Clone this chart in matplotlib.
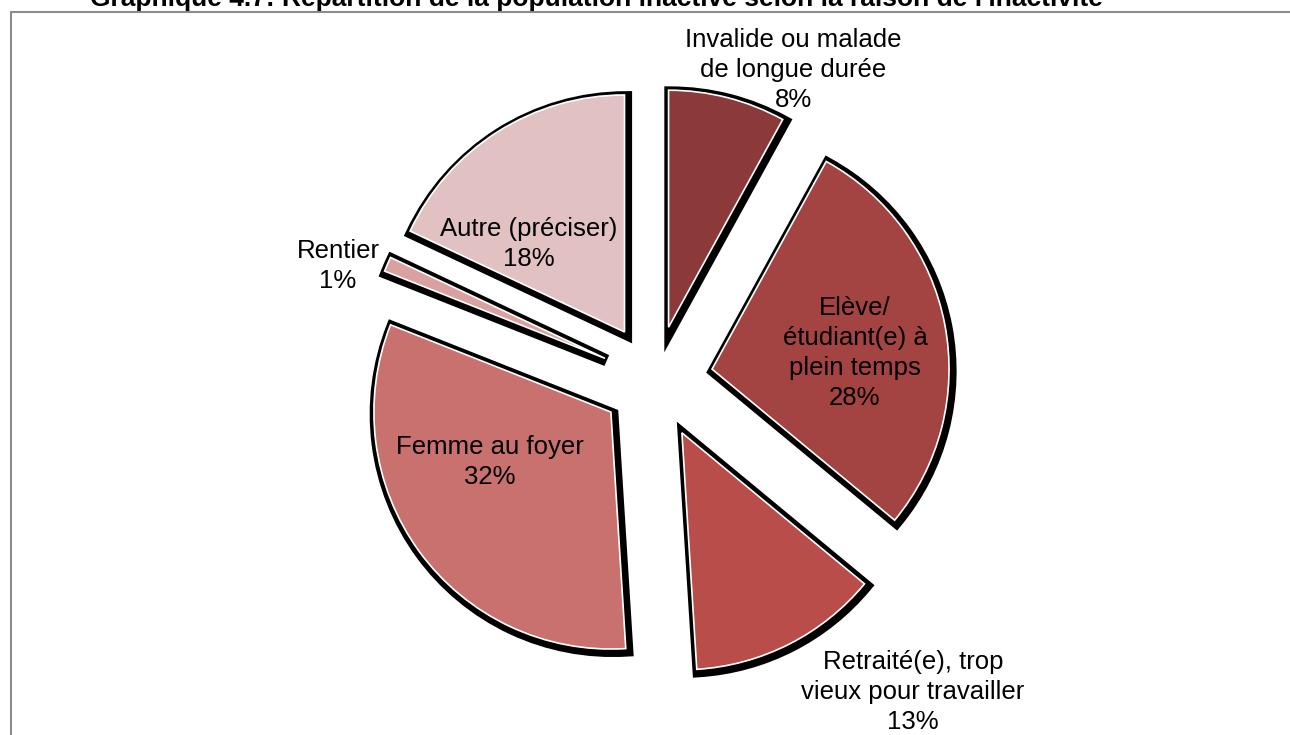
import matplotlib
matplotlib.use("Agg")
import matplotlib.pyplot as plt
import matplotlib.patches as mpatches
import matplotlib.patheffects as pe

plt.rcParams["font.family"] = ["Liberation Sans", "DejaVu Sans"]

# Data (clockwise from 12 o'clock)
CATEGORIES = [
    "Invalide ou malade\nde longue durée",
    "Elève/\nétudiant(e) à\nplein temps",
    "Retraité(e), trop\nvieux pour travailler",
    "Femme au foyer",
    "Rentier",
    "Autre (préciser)",
]
SHARES = [8, 28, 13, 32, 1, 18]

COLORS = ["#8b3939", "#a34342", "#b84d4a", "#c8716f", "#d9a2a1", "#e2c1c2"]
EXPLODE = [0.23, 0.245, 0.25, 0.23, 0.23, 0.24]

# label centres in figure pixels (x, y from top)
LABEL_POS = [(793, 70), (855, 353), (913, 692), (490, 462), (338, 266), (529, 244)]

TITLE = "Graphique 4.7: Répartition de la population inactive selon la raison de l'inactivité"

W, H = 1290, 735
CX, CY, R = 655, 380, 237   # pie centre / radius in pixels

fig = plt.figure(figsize=(W / 100, H / 100), dpi=100)
fig.patch.set_facecolor("white")

# outer frame (only left and top edges visible in the crop)
fig.add_artist(mpatches.Rectangle((11 / W, -0.1), 1.2, 1.1 - 12 / H,
                                  transform=fig.transFigure, fill=False,
                                  edgecolor="#8c8c8c", linewidth=1.5))

# title, cut by the top edge of the picture
fig.text(90 / W, 1 - 6 / H, TITLE, ha="left", va="baseline",
         fontsize=19, fontweight="bold", color="black")

ax = fig.add_axes([0, 0, 1, 1])
wedges, _ = ax.pie(
    SHARES,
    explode=EXPLODE,
    colors=COLORS,
    startangle=90,
    counterclock=False,
    radius=1.0,
    wedgeprops=dict(edgecolor="white", linewidth=1.2),
)
for w in wedges:
    w.set_path_effects([
        pe.Stroke(linewidth=8.5, foreground="black", offset=(1.2, -1.5)),
        pe.Normal(),
    ])

ax.set_xlim(-CX / R, (W - CX) / R)
ax.set_ylim(-(H - CY) / R, CY / R)
ax.set_aspect("equal")
ax.axis("off")

for cat, share, (lx, ly) in zip(CATEGORIES, SHARES, LABEL_POS):
    fig.text(lx / W, 1 - ly / H, f"{cat}\n{share}%", ha="center", va="center",
             fontsize=18.5, color="black", linespacing=1.3)

plt.savefig("out.png", dpi=100, facecolor=fig.get_facecolor())
plt.close()
